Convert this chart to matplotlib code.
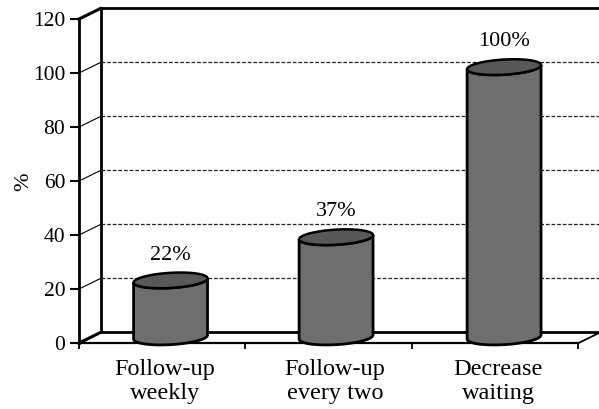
import numpy as np
import matplotlib
matplotlib.use("Agg")
import matplotlib.pyplot as plt

categories = ["Follow-up\nweekly", "Follow-up\nevery two", "Decrease\nwaiting"]
values = [21, 37, 100]
value_labels = ["22%", "37%", "100%"]
y_ticks = [0, 20, 40, 60, 80, 100, 120]
bar_pos = [0.553, 1.547, 2.556]
label_pos = [0.52, 1.54, 2.52]

DX, DY = 0.135, 4.1      # depth of the chart box
BASE = 2.3
HALF = 0.222
B = 2.8
TILT = 3.5
BODY = "#6e6e6e"
TOP = "#585858"

plt.rcParams["font.family"] = "Liberation Serif"
fig = plt.figure(figsize=(5.99, 4.09), dpi=100)
W, H = 599, 409
ax = fig.add_axes([78.5 / W, (H - 343.3) / H, 499.5 / W, 324 / H])
ax.set_xlim(0, 3)
ax.set_ylim(0, 120)

for s in ("top", "right"):
    ax.spines[s].set_visible(False)
ax.spines["left"].set_linewidth(2)
ax.spines["bottom"].set_linewidth(1.6)

# back wall and floor
kw = dict(color="black", clip_on=False, solid_capstyle="round")
ax.plot([DX, DX, 3 + DX], [120 + DY, DY, DY], lw=2, zorder=2, **kw)
ax.plot([DX, 3 + DX], [120 + DY, 120 + DY], lw=2, zorder=2, **kw)
ax.plot([0, DX], [120, 120 + DY], lw=2.2, zorder=2, **kw)
ax.plot([0, DX], [0, DY], lw=2.2, zorder=2, **kw)
ax.plot([3, 3 + DX], [0, DY], lw=1.3, zorder=2, **kw)
for t in y_ticks[1:-1]:
    ax.plot([0, DX], [t, t + DY], lw=0.8, color="black", clip_on=False, zorder=2)
    ax.plot([DX, 3 + DX], [t + DY, t + DY], lw=0.9, color="#222222",
            ls=(0, (3, 1.5)), clip_on=False, zorder=2)

# cylinders
t = np.linspace(0, 2 * np.pi, 121)
lower = np.linspace(np.pi, 2 * np.pi, 61)
for cx, v, lab in zip(bar_pos, values, value_labels):
    top_c = BASE + v
    ex = HALF * np.cos(t)
    ey = B * np.sin(t) + TILT * HALF * np.cos(t)
    lx = HALF * np.cos(lower)
    ly = B * np.sin(lower) + TILT * HALF * np.cos(lower)
    ux, uy = lx[::-1], ly[::-1]
    xs = np.r_[cx + lx, cx + ux]
    ys = np.r_[BASE + ly, top_c + uy]
    ax.fill(xs, ys, facecolor=BODY, edgecolor="black", lw=2, zorder=4, clip_on=False)
    ax.fill(cx + ex, top_c + ey, facecolor=TOP, edgecolor="black", lw=1.8, zorder=5, clip_on=False)
    ax.text(cx, top_c + 9.4, lab, ha="center", va="center", fontsize=16, zorder=6)

ax.set_yticks(y_ticks)
ax.tick_params(axis="y", length=6.5, width=1.5, labelsize=15.5, pad=3)
ax.set_xticks([0, 1, 2, 3])
ax.set_xticklabels([])
ax.tick_params(axis="x", which="major", length=4.5, width=1.3)
ax.set_xticks(label_pos, minor=True)
ax.set_xticklabels(categories, minor=True, fontsize=17.5, linespacing=1.2)
ax.tick_params(axis="x", which="minor", length=0, pad=11)

ax.set_ylabel("%", fontsize=16)
ax.yaxis.set_label_coords(-0.09, 0.499)

fig.savefig("out.png", dpi=100, facecolor="white")
